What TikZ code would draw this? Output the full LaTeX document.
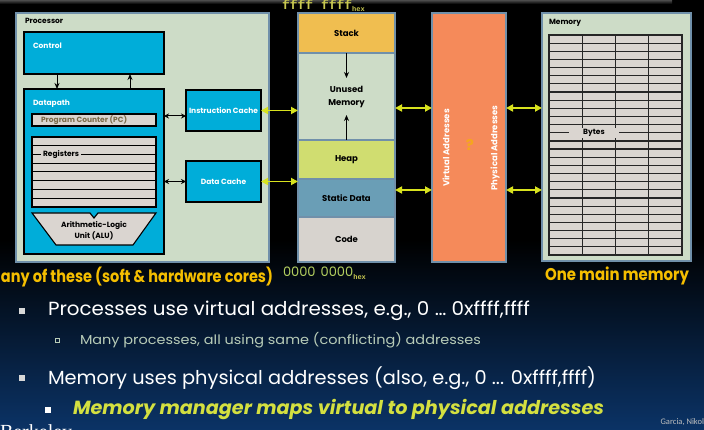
\documentclass[tikz,border=0pt]{standalone}
\usepackage{fontspec}
\setmainfont{Poppins}
\newfontfamily\monof{Liberation Mono}
\newfontfamily\footf{Carlito}
\newfontfamily\serf{Liberation Serif}
\usetikzlibrary{arrows.meta,calc}
\definecolor{sage}{HTML}{CDDCC7}
\definecolor{steel}{HTML}{7090AA}
\definecolor{cyanc}{HTML}{00ADD9}
\definecolor{regc}{HTML}{DAD5D0}
\definecolor{pctext}{HTML}{7A6A48}
\definecolor{stackc}{HTML}{F0BE50}
\definecolor{heapc}{HTML}{D0DD70}
\definecolor{staticc}{HTML}{6A9EB6}
\definecolor{codec}{HTML}{D7D3CE}
\definecolor{orangec}{HTML}{F58A5A}
\definecolor{yarrow}{HTML}{D8E21E}
\definecolor{gold}{HTML}{F5BE00}
\definecolor{hexc}{HTML}{C8C850}
\definecolor{hexb}{HTML}{B4D060}
\definecolor{qcol}{HTML}{F5A61E}
\definecolor{navyc}{HTML}{0B3366}
\definecolor{bulc}{HTML}{D8D8D8}
\definecolor{subc}{HTML}{B8CCB8}
\definecolor{ylw}{HTML}{D4E040}
\begin{document}
\begin{tikzpicture}[x=1pt,y=-1pt,
  every node/.style={inner sep=0pt, outer sep=0pt},
  panel/.style={draw=steel, line width=1.6pt, fill=sage, anchor=north west},
  cyanbox/.style={draw=black, line width=1.3pt, fill=cyanc, anchor=north west},
  graybar/.style={draw=black, line width=1.1pt, fill=regc, anchor=north west},
  lbl/.style={font=\bfseries\fontsize{7.5}{8}\selectfont},
  wlbl/.style={lbl, text=white},
  seglbl/.style={font=\bfseries\fontsize{8.5}{13}\selectfont, align=center},
  seg/.style={draw=steel, line width=1.2pt, minimum width=97pt, anchor=north west, seglbl},
  yarr/.style={draw=yarrow, line width=1.8pt, {Triangle[length=7pt,width=7pt]}-{Triangle[length=7pt,width=7pt]}},
  barr/.style={draw=black, line width=1pt, {Stealth[length=5pt,width=5pt]}-{Stealth[length=5pt,width=5pt]}},
  sarr/.style={draw=black, line width=1pt, -{Stealth[length=6pt,width=5pt]}},
  gridline/.style={draw=black!85, line width=1.2pt},
  capt/.style={text=gold, font=\bfseries\fontsize{17}{17}\selectfont},
]
\useasboundingbox (0,0) rectangle (704,430);
\fill[black] (0,0) rectangle (704,430);
\shade[top color=black, bottom color=navyc] (0,240) rectangle (704,430);
\shade[top color=black!70, bottom color=black] (0,0) rectangle (672,4);

% ---------- Processor ----------
\node[panel, minimum width=253pt, minimum height=249pt] (proc) at (16,13) {};
\node[lbl, anchor=west] (proct) at (25,21) {Processor};
\node[cyanbox, minimum width=140pt, minimum height=42pt] (ctrl) at (24,32) {};
\node[wlbl, anchor=west] (ctrlt) at (33,46) {Control};
\node[cyanbox, minimum width=140pt, minimum height=165pt] (dp) at (24,89) {};
\node[wlbl, anchor=west] (dpt) at (33,104) {Datapath};
\node[graybar, minimum width=124pt, minimum height=12pt] (pc) at (32,114) {};
\node[lbl, text=pctext, anchor=west] (pct) at (41,120) {Program Counter (PC)};
\node[graybar, minimum width=124pt, minimum height=70pt] (regs) at (32,137) {};
\foreach \i in {1,...,7}
  \draw[black, line width=1pt] ($(regs.north west)!\i/8!(regs.south west)$) -- ($(regs.north east)!\i/8!(regs.south east)$);
\node[lbl, fill=regc, inner xsep=2pt, inner ysep=1.5pt, anchor=west] (regt) at ($(regs.north west)!2/8!(regs.south west)+(9,0)$) {Registers};
\draw[black, line width=1.1pt, fill=regc] (32,213) -- (90,213) -- (94,218) -- (98,213) -- (156,213) -- (133,245) -- (56,245) -- cycle;
\node[lbl, align=center, font=\bfseries\fontsize{7.5}{11}\selectfont] (alu) at (94,231) {Arithmetic-Logic\\Unit (ALU)};
\node[cyanbox, wlbl, minimum width=75pt, minimum height=41pt] (ic) at (186,90) {Instruction Cache};
\node[cyanbox, wlbl, minimum width=75pt, minimum height=41pt] (dc) at (186,161) {Data Cache};
\draw[sarr] ([xshift=33pt]ctrl.south west) -- ([xshift=33pt]dp.north west);
\draw[sarr] ([xshift=106pt]dp.north west) -- ([xshift=106pt]ctrl.south west);
\coordinate (ya) at (0,116);
\draw[barr] (dp.east |- ya) -- (ic.west |- ya);
\draw[barr] (dp.east |- dc.west) -- (dc.west);

% ---------- Address space ----------
\node[seg, fill=stackc, minimum height=40pt] (stack) at (298,13) {Stack};
\node[seg, fill=sage, minimum height=87pt] (unused) at (298,53) {Unused\\Memory};
\node[seg, fill=heapc, minimum height=39pt] (heap) at (298,140) {Heap};
\node[seg, fill=staticc, minimum height=38pt] (static) at (298,179) {Static Data};
\node[seg, fill=codec, minimum height=45pt] (code) at (298,217) {Code};
\draw[steel, line width=1.8pt] (stack.north west) rectangle (code.south east);
\draw[sarr, line width=1.2pt] (unused.north) -- ([yshift=-25pt]unused.north);
\draw[sarr, line width=1.2pt] (unused.south) -- ([yshift=25pt]unused.south);
\node[anchor=base west, text=hexc, font=\monof\bfseries\fontsize{13}{13}\selectfont] (fhex) at (282,9.5) {ffff ffff\raisebox{-2.5pt}{\fontsize{7}{7}\selectfont hex}};
\node[anchor=west, text=hexb, font=\fontsize{13}{13}\selectfont] (zhex) at (283,273) {0000\hspace{5pt}0000\raisebox{-3pt}{\monof\bfseries\fontsize{7}{7}\selectfont\color{hexc}hex}};

% ---------- Translation ----------
\node[draw=steel, line width=1.5pt, fill=orangec, minimum width=74pt, minimum height=249pt, anchor=north west] (xlat) at (432,13) {};
\node[wlbl, font=\bfseries\fontsize{8.5}{9}\selectfont, rotate=90] (vat) at (446,148) {Virtual Addresses};
\node[wlbl, font=\bfseries\fontsize{8.5}{9}\selectfont, rotate=90] (pat) at (495,148) {Physical Addresses};
\node[text=qcol, font=\bfseries\fontsize{15}{15}\selectfont] (qm) at (470,145) {?};

% ---------- Memory ----------
\node[panel, minimum width=149pt, minimum height=248pt] (mem) at (542,13) {};
\node[lbl, anchor=west] (memt) at (549,23) {Memory};
\node[anchor=north west, fill=regc, minimum width=133pt, minimum height=220pt] (grid) at (549,35) {};
\foreach \i in {1,...,26}
  \draw[gridline] ($(grid.north west)!\i/27!(grid.south west)$) -- ($(grid.north east)!\i/27!(grid.south east)$);
\foreach \j in {1,2,3}
  \draw[gridline] ($(grid.north west)!\j/4!(grid.north east)$) -- ($(grid.south west)!\j/4!(grid.south east)$);
\draw[gridline, line width=1.4pt] (grid.north west) rectangle (grid.south east);
\node[lbl, fill=regc, inner xsep=14pt, inner ysep=1.5pt] (bytes) at ($(grid.north west)!12/27!(grid.south west)+(45,0)$) {Bytes};

% ---------- Yellow connectors ----------
\coordinate (va) at (0,108);
\coordinate (pa) at (0,190);
\draw[yarr] (ic.east) -- (ic.east -| unused.west);
\draw[yarr] (dc.east) -- (dc.east -| static.west);
\draw[yarr] (unused.east |- va) -- (xlat.west |- va);
\draw[yarr] (static.east |- pa) -- (xlat.west |- pa);
\draw[yarr] (xlat.east |- va) -- (mem.west |- va);
\draw[yarr] (xlat.east |- pa) -- (mem.west |- pa);

% ---------- Captions ----------
\node[capt, anchor=east] (cap1) at (273,277) {\resizebox{272pt}{\height}{any of these (soft \& hardware cores)}};
\node[capt, anchor=east] (cap2) at (689,276) {\resizebox{144pt}{\height}{One main memory}};

% ---------- Bullets ----------
\fill[bulc] (19,308) rectangle (25,314);
\draw[subc, line width=0.8pt] (55,338) rectangle (59,342);
\fill[bulc] (19,375) rectangle (25,381);
\fill[white] (45,407) rectangle (51,413);
\node[anchor=west, text=white] (b1) at (48,311) {\resizebox{482pt}{\height}{\fontsize{19}{19}\selectfont Processes use virtual addresses, e.g., 0 … 0xffff,ffff}};
\node[anchor=west, text=subc] (b2) at (80,340) {\resizebox{401pt}{\height}{\fontsize{13}{13}\selectfont Many processes, all using same (conflicting) addresses}};
\node[anchor=west, text=white] (b3) at (48,378) {\resizebox{548pt}{\height}{\fontsize{19}{19}\selectfont Memory uses physical addresses (also, e.g., 0 ... 0xffff,ffff)}};
\node[anchor=west, text=ylw] (b4) at (73,410) {\resizebox{531pt}{\height}{\fontsize{19}{19}\selectfont\bfseries\itshape Memory manager maps virtual to physical addresses}};
\node[anchor=east, text=black!25, font=\footf\fontsize{8.5}{9}\selectfont] (foot) at (704,422) {Garcia, Nikol};
\begin{scope}
  \clip (0,0) rectangle (704,430);
  \node[anchor=north west, text=white, font=\serf\fontsize{20}{20}\selectfont] (berk) at (0,425) {Berkeley};
\end{scope}
\end{tikzpicture}
\end{document}
